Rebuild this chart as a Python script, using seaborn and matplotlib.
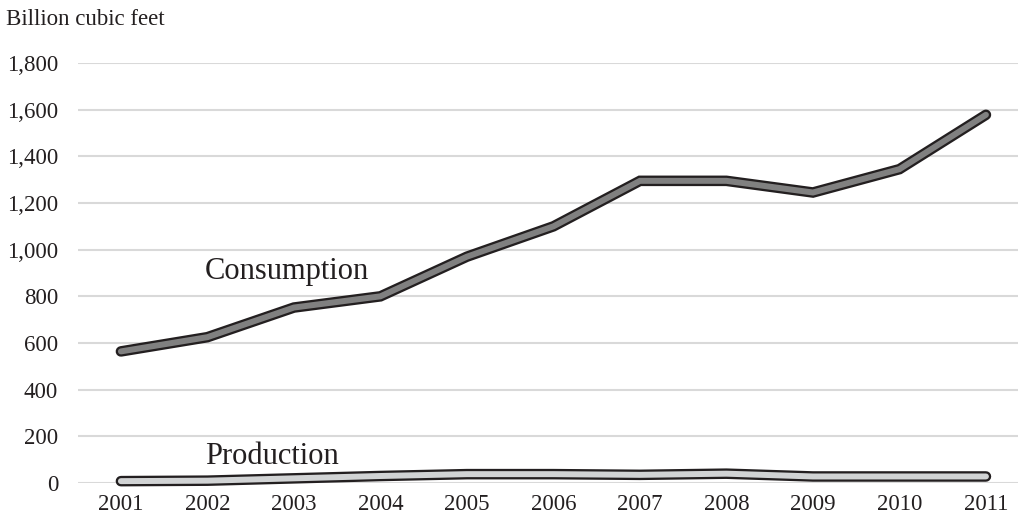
import matplotlib
matplotlib.use("Agg")
import matplotlib.pyplot as plt
import matplotlib.patheffects as pe
import seaborn as sns
import pandas as pd

years = [2001, 2002, 2003, 2004, 2005, 2006, 2007, 2008, 2009, 2010, 2011]
consumption = [564, 625, 752, 800, 970, 1100, 1295, 1295, 1245, 1345, 1578]
production = [8, 10, 20, 30, 38, 38, 35, 40, 28, 28, 28]
y_ticks = [0, 200, 400, 600, 800, 1000, 1200, 1400, 1600, 1800]

sns.set_theme(style="white")
plt.rcParams["font.family"] = ["Liberation Serif", "DejaVu Serif"]

df = pd.DataFrame({"year": years, "Consumption": consumption, "Production": production})

fig = plt.figure(figsize=(10.18, 5.22), dpi=100)
ax = fig.add_axes([0.0763, 0.0747, 0.9347, 0.8046])

for y in y_ticks:
    ax.axhline(y, color="#d9d9d9", linewidth=1.5, zorder=0)

outline = "#231f20"
for col, fill in [("Consumption", "#808080"), ("Production", "#d1d3d4")]:
    sns.lineplot(
        data=df, x="year", y=col, ax=ax, color=fill, linewidth=4.3,
        solid_capstyle="round", solid_joinstyle="miter", clip_on=False, zorder=3,
        path_effects=[pe.Stroke(linewidth=7.6, foreground=outline), pe.Normal()],
    )

ax.set_xlim(2000.5, 2011.5)
ax.set_ylim(0, 1800)
ax.set_xticks(years)
ax.set_xticklabels([str(y) for y in years])
ax.set_yticks(y_ticks)
ax.set_yticklabels([f"{v:,}" for v in y_ticks])
ax.tick_params(axis="both", length=0, labelsize=16.5, colors="#231f20")
ax.tick_params(axis="y", pad=14)
ax.tick_params(axis="x", pad=8)
ax.set_xlabel("")
ax.set_ylabel("")
for s in ax.spines.values():
    s.set_visible(False)

ax.text(2001.97, 874, "Consumption", fontsize=22, color="#231f20", ha="left", va="baseline")
ax.text(2001.97, 81, "Production", fontsize=22, color="#231f20", ha="left", va="baseline")

fig.text(6 / 1018, 1 - 25 / 522, "Billion cubic feet", fontsize=16.5, color="#231f20",
         ha="left", va="baseline")

fig.savefig("out.png", dpi=100)
